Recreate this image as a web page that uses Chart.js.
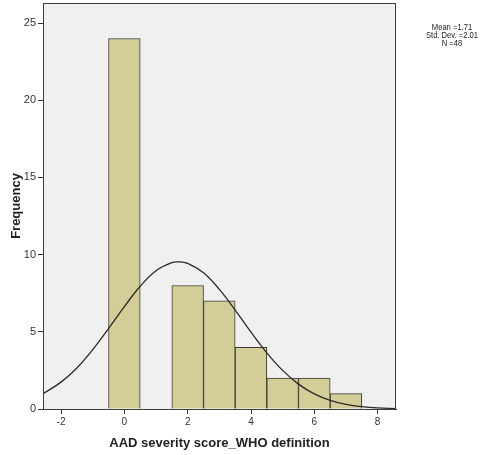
<!DOCTYPE html>
<html>
<head>
<meta charset="utf-8">
<script src="https://cdn.jsdelivr.net/npm/chart.js@4"></script>
<style>
  html, body { margin: 0; padding: 0; background: #fff; }
  #wrap { width: 489px; height: 455px; }
</style>
</head>
<body>
<div id="wrap"><canvas id="hist" width="489" height="455"></canvas></div>
<script>
// histogram bins (bin centre, count)
const binCentres = [0, 2, 3, 4, 5, 6, 7];
const binCounts = [24, 8, 7, 4, 2, 2, 1];

// fitted normal curve
const curveX = [-2.57, -2, -1.5, -1, -0.5, 0, 0.5, 1, 1.5, 1.71, 2, 2.5, 3, 3.5, 4, 4.5, 5, 5.5, 6, 6.5, 7, 7.5, 8, 8.58];
const curveY = [0.99, 1.74, 2.66, 3.84, 5.21, 6.63, 7.95, 8.95, 9.48, 9.53, 9.43, 8.82, 7.75, 6.41, 4.98, 3.64, 2.50, 1.61, 0.98, 0.56, 0.30, 0.15, 0.07, 0.03];

const statLines = ['Mean =1.71', 'Std. Dev. =2.01', 'N =48'];
const xTitle = 'AAD severity score_WHO definition';
const yTitle = 'Frequency';

const frame = {
    id: 'frame',
    beforeDraw(chart) {
        const a = chart.chartArea, c = chart.ctx;
        c.save();
        c.fillStyle = '#f0f0f0';
        c.fillRect(a.left, a.top, a.right - a.left, a.bottom - a.top);
        c.restore();
    },
    afterDraw(chart) {
        const a = chart.chartArea, c = chart.ctx;
        c.save();
        c.strokeStyle = '#3c3c3c';
        c.lineWidth = 1;
        c.strokeRect(a.left + 0.5, a.top + 0.5, a.right - a.left - 1, a.bottom - a.top);

        c.fillStyle = '#222';
        c.font = 'bold 13px "Liberation Sans", Arial, sans-serif';
        c.textAlign = 'center';
        c.textBaseline = 'middle';
        c.fillText(xTitle, (a.left + a.right) / 2, 443);
        c.translate(16, (a.top + a.bottom) / 2);
        c.rotate(-Math.PI / 2);
        c.fillText(yTitle, 0, 0);
        c.restore();

        // stats box, a bit condensed like the SPSS output
        c.save();
        c.fillStyle = '#222';
        c.font = '9.5px "Liberation Sans", Arial, sans-serif';
        c.textAlign = 'center';
        c.textBaseline = 'middle';
        c.translate(452, 0);
        c.scale(0.8, 1);
        statLines.forEach((t, i) => c.fillText(t, 0, 27 + i * 8));
        c.restore();
    }
};

new Chart(document.getElementById('hist'), {
    type: 'bar',
    data: {
        datasets: [
            {
                type: 'line',
                data: curveX.map((x, i) => ({ x: x, y: curveY[i] })),
                borderColor: '#2a2a2a',
                borderWidth: 1.3,
                pointRadius: 0,
                tension: 0.4,
                fill: false,
                order: 0
            },
            {
                type: 'bar',
                data: binCentres.map((x, i) => ({ x: x, y: binCounts[i] })),
                backgroundColor: '#d3ce97',
                borderColor: '#3a3a30',
                borderWidth: 1,
                barPercentage: 1,
                categoryPercentage: 1,
                order: 1
            }
        ]
    },
    options: {
        responsive: false,
        animation: false,
        layout: { padding: { left: 0, right: 93, top: 3, bottom: 0 } },
        plugins: { legend: { display: false }, tooltip: { enabled: false } },
        scales: {
            x: {
                type: 'linear',
                min: -2.57,
                max: 8.58,
                offset: false,
                afterFit: s => { s.height = 46; s.paddingLeft = 0; s.paddingRight = 0; },
                grid: { offset: false, drawOnChartArea: false, drawTicks: true, tickLength: 5, color: '#333' },
                border: { display: true, color: '#333' },
                ticks: {
                    stepSize: 2,
                    includeBounds: false,
                    color: '#333',
                    padding: 2,
                    maxRotation: 0,
                    font: { family: '"Liberation Sans", Arial, sans-serif', size: 10 }
                }
            },
            y: {
                min: 0,
                max: 26.3,
                afterFit: s => { s.width = 43; s.paddingTop = 0; s.paddingBottom = 0; },
                grid: { drawOnChartArea: false, drawTicks: true, tickLength: 5, color: '#333' },
                border: { display: true, color: '#333' },
                ticks: {
                    stepSize: 5,
                    includeBounds: false,
                    color: '#333',
                    padding: 2,
                    font: { family: '"Liberation Sans", Arial, sans-serif', size: 11 }
                }
            }
        }
    },
    plugins: [frame]
});
</script>
</body>
</html>
